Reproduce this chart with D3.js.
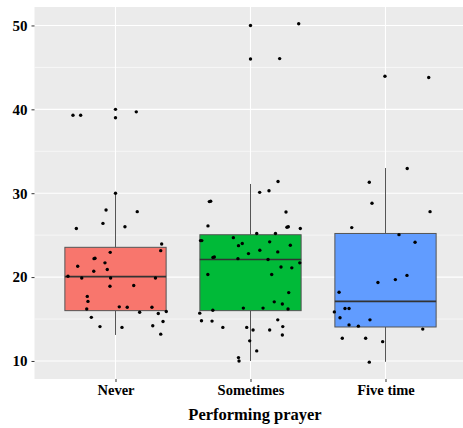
<!DOCTYPE html>
<html><head><meta charset="utf-8">
<script src="https://cdn.jsdelivr.net/npm/d3@7"></script>
<style>html,body{margin:0;padding:0;background:#fff;}svg{display:block;}
svg text{font-family:"Liberation Serif","Times New Roman",serif;font-weight:bold;}</style>
</head><body>
<script>
const categories = ["Never", "Sometimes", "Five time"];
const boxColors = ["#F8766D", "#00BA38", "#619CFF"];
const yTicks = [10, 20, 30, 40, 50];
const yMinor = [15, 25, 35, 45];
const xTitle = "Performing prayer";

// box statistics [lower whisker, Q1, median, Q3, upper whisker]
const boxNever = [13.1, 16.0, 20.05, 23.55, 30.0];
const boxSometimes = [10.0, 16.0, 22.1, 25.05, 31.1];
const boxFive = [9.9, 14.05, 17.1, 25.2, 33.0];

// jittered points: [offset in category units, value]
const ptsNever = [[-0.315,39.3],[-0.258,39.3],[0,40.0],[0,39.0],[0.154,39.7],[0,30.0],[-0.07,28.0],[0.161,27.8],[-0.093,26.4],[-0.29,25.8],[0.07,26.0],[0.342,23.95],[0.335,23.15],[-0.039,22.95],[-0.159,22.2],[-0.152,22.25],[-0.078,21.7],[-0.28,21.3],[-0.061,20.9],[-0.161,20.7],[-0.352,20.1],[-0.25,19.9],[-0.036,19.9],[0.296,19.9],[-0.041,18.9],[0.135,19.0],[-0.209,17.7],[-0.204,17.1],[-0.213,16.2],[0.028,16.45],[0.087,16.4],[0.27,16.4],[0.376,15.9],[0.179,15.8],[0.317,15.65],[-0.179,15.2],[0.352,14.7],[0.276,14.2],[-0.115,14.1],[0.048,14.0],[0.335,13.2]];
const ptsSometimes = [[0,50.0],[0.357,50.2],[0,46.0],[0.216,46.05],[0.204,31.4],[0.068,30.1],[0.137,30.3],[0.263,27.76],[-0.305,29.0],[-0.295,29.05],[-0.315,26.1],[0.27,25.95],[0.28,26.0],[0.369,25.8],[0.046,25.2],[0.185,25.2],[-0.37,24.35],[-0.361,24.35],[-0.127,24.7],[-0.089,23.75],[-0.061,24.0],[0.142,24.2],[0.295,23.8],[-0.015,22.8],[0.069,23.2],[0.202,23.0],[-0.278,22.35],[-0.268,22.4],[-0.093,22.2],[0.13,22.1],[0.365,21.7],[0.226,21.2],[0.306,21.1],[-0.316,20.3],[0.157,20.3],[0.283,18.15],[0.176,17.05],[0.236,16.8],[-0.279,16.05],[-0.053,16.3],[0.093,16.3],[0.278,16.2],[-0.376,15.7],[-0.363,14.8],[-0.285,14.75],[-0.205,14.0],[-0.028,14.0],[0.019,13.7],[0.142,13.7],[0.202,14.9],[0.239,14.1],[0.236,13.1],[-0.006,12.4],[0.046,11.2],[-0.089,10.4],[-0.085,10.0]];
const ptsFive = [[-0.004,43.95],[0.32,43.8],[0.161,32.95],[-0.12,31.3],[-0.1,28.8],[0.33,27.8],[-0.25,25.9],[0.1,25.06],[0.219,24.15],[0.159,20.2],[0.073,19.7],[-0.056,19.35],[-0.344,18.2],[-0.3,16.25],[-0.27,16.25],[-0.379,15.85],[-0.337,15.15],[-0.115,14.9],[-0.27,14.3],[-0.201,14.15],[0.276,13.8],[-0.32,12.7],[-0.147,12.7],[-0.021,12.3],[-0.12,9.86]];

const boxes = [boxNever, boxSometimes, boxFive];
const points = [ptsNever, ptsSometimes, ptsFive];

const W = 463, H = 428;
const panel = {left: 34.5, right: 466.5, top: 7, bottom: 379};
const svg = d3.select("body").append("svg").attr("width", W).attr("height", H);

const x = d3.scalePoint().domain(categories).range([panel.left, panel.right]).padding(0.6);
const step = x.step();
const y = d3.scaleLinear().domain([7.85, 52.2]).range([panel.bottom, panel.top]);

const font = '"Liberation Serif","Times New Roman",serif';

// panel background
svg.append("rect").attr("x", panel.left).attr("y", panel.top)
  .attr("width", panel.right - panel.left).attr("height", panel.bottom - panel.top)
  .attr("fill", "#EBEBEB");

// grid
const g = svg.append("g");
g.selectAll(".minor").data(yMinor).join("line")
  .attr("x1", panel.left).attr("x2", panel.right)
  .attr("y1", d => y(d)).attr("y2", d => y(d))
  .attr("stroke", "#fff").attr("stroke-width", 0.6);
g.selectAll(".major").data(yTicks).join("line")
  .attr("x1", panel.left).attr("x2", panel.right)
  .attr("y1", d => y(d)).attr("y2", d => y(d))
  .attr("stroke", "#fff").attr("stroke-width", 1.1);
g.selectAll(".vmajor").data(categories).join("line")
  .attr("x1", d => x(d)).attr("x2", d => x(d))
  .attr("y1", panel.top).attr("y2", panel.bottom)
  .attr("stroke", "#fff").attr("stroke-width", 1.1);

// boxplots
const bw = step * 0.75;
categories.forEach((c, i) => {
  const b = boxes[i];
  const cx = x(c);
  const bg = svg.append("g");
  bg.append("line").attr("x1", cx).attr("x2", cx).attr("y1", y(b[0])).attr("y2", y(b[1]))
    .attr("stroke", "#555").attr("stroke-width", 1);
  bg.append("line").attr("x1", cx).attr("x2", cx).attr("y1", y(b[3])).attr("y2", y(b[4]))
    .attr("stroke", "#555").attr("stroke-width", 1);
  bg.append("rect").attr("x", cx - bw / 2).attr("y", y(b[3]))
    .attr("width", bw).attr("height", y(b[1]) - y(b[3]))
    .attr("fill", boxColors[i]).attr("stroke", "#555").attr("stroke-width", 1);
  bg.append("line").attr("x1", cx - bw / 2).attr("x2", cx + bw / 2)
    .attr("y1", y(b[2])).attr("y2", y(b[2]))
    .attr("stroke", "#333").attr("stroke-width", 1.6);
});

// jittered points
categories.forEach((c, i) => {
  svg.append("g").selectAll("circle").data(points[i]).join("circle")
    .attr("cx", d => x(c) + d[0] * step)
    .attr("cy", d => y(d[1]))
    .attr("r", 1.7).attr("fill", "#000");
});

// y axis
const yAxis = d3.axisLeft(y).tickValues(yTicks).tickSize(3).tickPadding(4);
const ya = svg.append("g").attr("transform", `translate(${panel.left},0)`).call(yAxis)
  .attr("font-family", null);
ya.select(".domain").remove();
ya.selectAll("line").attr("stroke", "#333");
ya.selectAll("text").attr("fill", "#000").style("font-family", font)
  .style("font-size", "15px").style("font-weight", "bold");

// x axis
const xAxis = d3.axisBottom(x).tickSize(3).tickPadding(2.5);
const xa = svg.append("g").attr("transform", `translate(0,${panel.bottom})`).call(xAxis)
  .attr("font-family", null);
xa.select(".domain").remove();
xa.selectAll("line").attr("stroke", "#333");
xa.selectAll("text").attr("fill", "#000").style("font-family", font)
  .style("font-size", "14.5px").style("font-weight", "bold");

// x title
svg.append("text").attr("x", 255).attr("y", 419.5)
  .attr("text-anchor", "middle").style("font-family", font)
  .style("font-size", "16.5px").style("font-weight", "bold").attr("fill", "#000")
  .text(xTitle);
</script>
</body></html>
